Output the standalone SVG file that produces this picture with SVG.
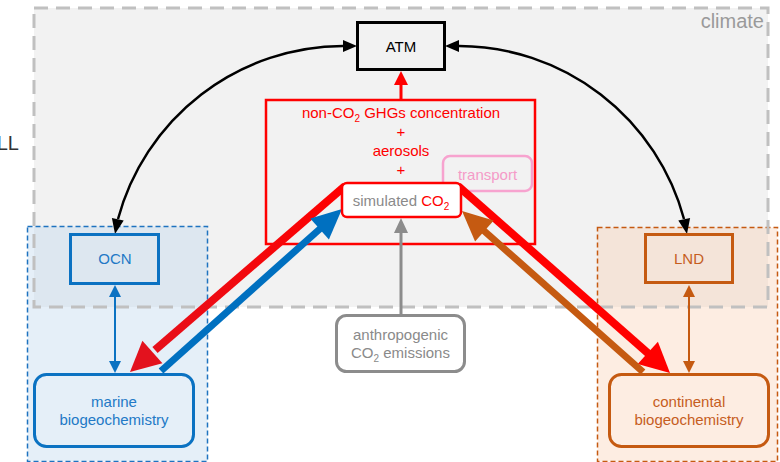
<svg xmlns="http://www.w3.org/2000/svg" width="780" height="462" viewBox="0 0 780 462">
<defs>
<style>
text{font-family:"Liberation Sans",Arial,sans-serif;font-size:15px;text-anchor:middle}
.blue{fill:#2279c6}
.brown{fill:#c65d1e}
.red{fill:#ff0000}
.gray{fill:#8a8a8a}
.sub{font-size:10px}
.node{stroke-width:3;fill:none}
</style>
<linearGradient id="gl" gradientUnits="userSpaceOnUse" x1="340" y1="183" x2="130" y2="372">
<stop offset="0" stop-color="#ff0000"/>
<stop offset="1" stop-color="#e3121e"/>
</linearGradient>
</defs>
<rect x="0" y="0" width="780" height="462" fill="#ffffff"/>

<g id="climate">
<rect x="34" y="8" width="734" height="299" fill="#f2f2f2"/>
</g>
<g id="ocn-region">
<rect x="27.5" y="226.5" width="180" height="235" fill="#bdd7ee" fill-opacity="0.4" stroke="#1f73c0" stroke-width="1.5" stroke-dasharray="5 3"/>
</g>
<g id="lnd-region">
<rect x="597.5" y="227.5" width="180" height="234" fill="#f8cbad" fill-opacity="0.35" stroke="#c55a11" stroke-width="1.5" stroke-dasharray="5 3"/>
</g>
<g id="climate-border">
<rect x="34" y="8" width="734" height="299" fill="none" stroke="#c0c0c0" stroke-width="3" stroke-dasharray="14 8"/>
<text x="764" y="28" style="font-size:20px;text-anchor:end" fill="#9a9a9a">climate</text>
</g>
<text x="19" y="150" style="font-size:20px;text-anchor:end" fill="#333333">LL</text>

<g id="concentration">
<rect x="266" y="100" width="269" height="144" fill="none" stroke="#ff0000" stroke-width="2.5"/>
<text x="401" y="118" class="red">non-CO<tspan class="sub" dy="4">2</tspan><tspan dy="-4"> GHGs concentration</tspan></text>
<text x="401" y="137" class="red">+</text>
<text x="401" y="155.5" class="red">aerosols</text>
<text x="401" y="174.5" class="red">+</text>
</g>

<g id="transport">
<rect x="443" y="156" width="89" height="35" rx="7" fill="none" stroke="#f7a3cf" stroke-width="2.5"/>
<text x="487.5" y="179.5" fill="#f59bc8">transport</text>
</g>

<g id="connectors">
<!-- black curved -->
<path d="M343,46 A234,234 0 0 0 118,219" fill="none" stroke="#000" stroke-width="2.5"/>
<polygon points="357,46 343,40 343,52" fill="#000"/>
<polygon points="115,234 123.7,220.5 111.9,218.1" fill="#000"/>
<path d="M459,46 A234,234 0 0 1 684,219" fill="none" stroke="#000" stroke-width="2.5"/>
<polygon points="445,46 459,40 459,52" fill="#000"/>
<polygon points="687,234 678.3,220.5 690.1,218.1" fill="#000"/>
<!-- red to ATM -->
<line x1="401" y1="100" x2="401" y2="83" stroke="#ff0000" stroke-width="3"/>
<polygon points="401,71 394,85 408,85" fill="#ff0000"/>
<!-- OCN <-> marine -->
<line x1="115" y1="294" x2="115" y2="364" stroke="#0b72c2" stroke-width="2"/>
<polygon points="115,285 109,297 121,297" fill="#0b72c2"/>
<polygon points="115,373 109,361 121,361" fill="#0b72c2"/>
<!-- LND <-> continental -->
<line x1="689" y1="294" x2="689" y2="364" stroke="#c55a11" stroke-width="2"/>
<polygon points="689,285 683,297 695,297" fill="#c55a11"/>
<polygon points="689,373 683,361 695,361" fill="#c55a11"/>
<!-- anthropogenic -> simulated -->
<line x1="401" y1="315" x2="401" y2="230" stroke="#8c8c8c" stroke-width="3"/>
<polygon points="401,218 394,233 408,233" fill="#8c8c8c"/>
<!-- thick red out -->
<line x1="345" y1="186" x2="155" y2="350" stroke="url(#gl)" stroke-width="8"/>
<polygon points="130,372 162.4,363.2 142.4,340.8" fill="#e3121e"/>
<line x1="458" y1="186" x2="650" y2="355" stroke="#ff0000" stroke-width="8"/>
<polygon points="670,373 637.7,363.9 657.9,341.7" fill="#ff0000"/>
<!-- blue up -->
<line x1="161" y1="371" x2="322" y2="227" stroke="#0070c0" stroke-width="7"/>
<polygon points="342,209 328.9,239.4 310.3,218.6" fill="#0070c0"/>
<!-- brown up -->
<line x1="643" y1="372" x2="482" y2="229" stroke="#c55a11" stroke-width="7"/>
<polygon points="462,211 493.7,220.4 475.1,241.4" fill="#c55a11"/>
</g>

<g id="atm">
<rect x="357.5" y="22.5" width="87" height="47" class="node" stroke="#000"/>
<text x="401" y="52" fill="#000">ATM</text>
</g>

<g id="simulated">
<rect x="342" y="183" width="119" height="34" rx="5" fill="#ffffff" stroke="#ff0000" stroke-width="2.5"/>
<text x="401" y="206"><tspan class="gray">simulated </tspan><tspan class="red">CO</tspan><tspan class="red sub" dy="4">2</tspan></text>
</g>

<g id="anthropogenic">
<rect x="336.5" y="315.5" width="128" height="56" rx="10" fill="#ffffff" stroke="#8c8c8c" stroke-width="3"/>
<text x="400.5" y="340" class="gray">anthropogenic</text>
<text x="400.5" y="358" class="gray">CO<tspan class="sub" dy="4">2</tspan><tspan dy="-4"> emissions</tspan></text>
</g>

<g id="ocn">
<rect x="70.5" y="234.5" width="88" height="49" class="node" stroke="#0b72c2"/>
<text x="115" y="264" class="blue">OCN</text>
</g>

<g id="lnd">
<rect x="645.5" y="234.5" width="87" height="48" class="node" stroke="#c55a11"/>
<text x="689" y="264" class="brown">LND</text>
</g>

<g id="marine">
<rect x="34.5" y="374.5" width="159" height="72" rx="12" class="node" stroke="#0b72c2"/>
<text x="114" y="407" class="blue">marine</text>
<text x="114" y="425" class="blue">biogeochemistry</text>
</g>

<g id="continental">
<rect x="609.5" y="374.5" width="159" height="72" rx="12" class="node" stroke="#c55a11"/>
<text x="689" y="406.5" class="brown">continental</text>
<text x="689" y="424.5" class="brown">biogeochemistry</text>
</g>
</svg>
